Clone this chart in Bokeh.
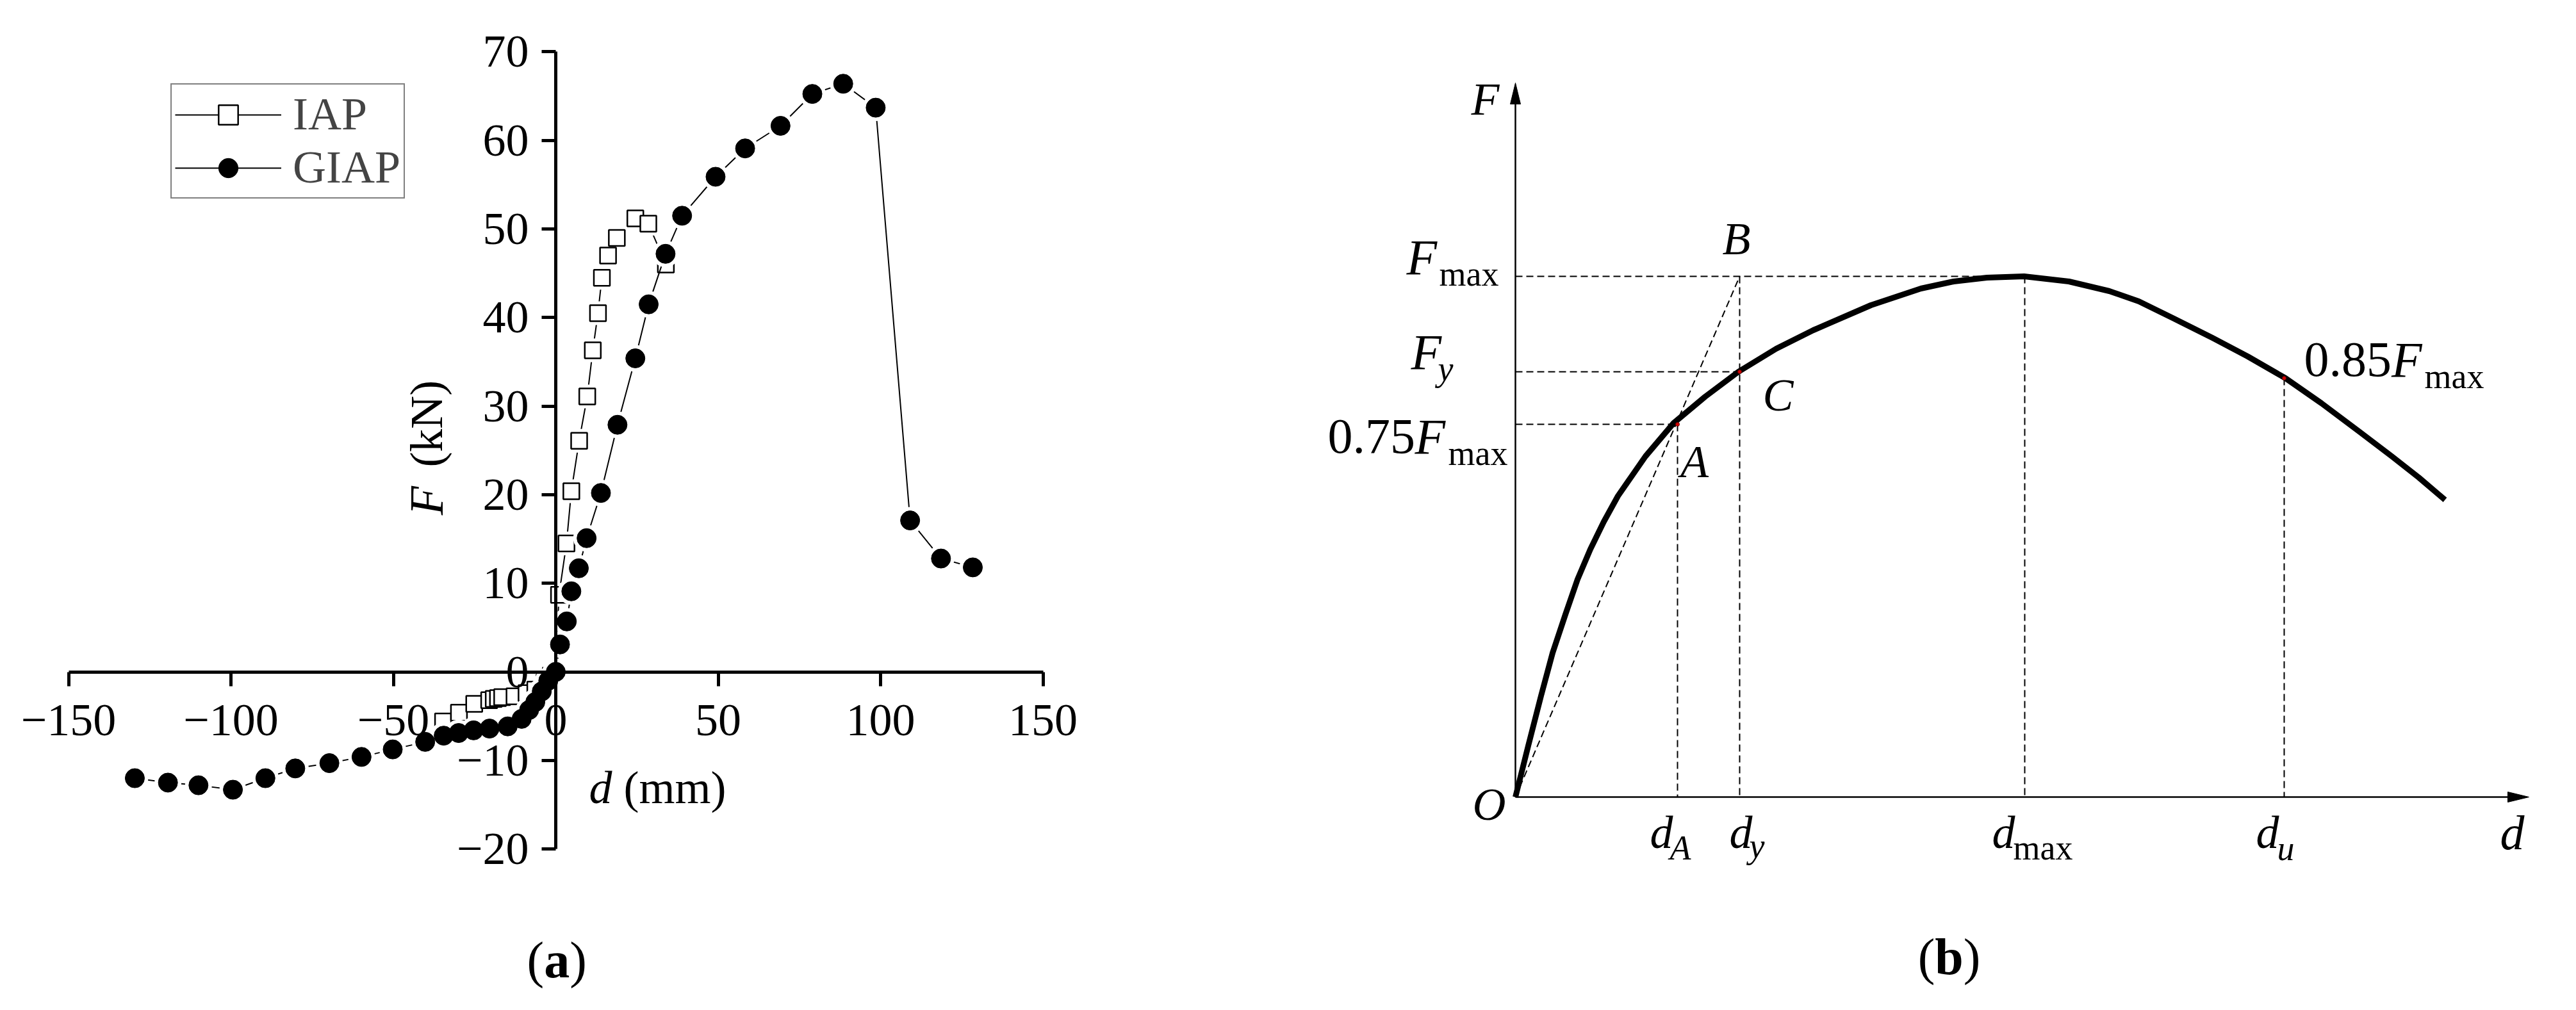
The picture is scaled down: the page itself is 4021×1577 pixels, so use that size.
import math
from bokeh.plotting import figure
from bokeh.layouts import row
from bokeh.models import Range1d, LinearAxis, FixedTicker, Legend, LegendItem, Label
from bokeh.embed import file_html
from bokeh.resources import INLINE

SERIF = "Liberation Serif"

# ---------------- panel (a) data ----------------
series_names = ["IAP", "GIAP"]
iap_d = [-34.7, -29.8, -25.1, -20.5, -19.1, -17.8, -16.5, -12.7, -9.0, -6.3, -3.5, -1.5, 0.0,
         1.0, 3.3, 4.8, 7.2, 9.7, 11.4, 13.0, 14.2, 16.1, 18.8, 24.5, 28.5, 33.9]
iap_f = [-5.6, -4.6, -3.6, -3.2, -3.05, -2.95, -2.85, -2.75, -2.4, -2.0, -1.2, -0.4, 0.0,
         8.7, 14.5, 20.4, 26.1, 31.1, 36.3, 40.5, 44.5, 47.0, 49.0, 51.2, 50.6, 46.0]
giap_d = [-129.6, -119.4, -110.0, -99.4, -89.4, -80.2, -69.7, -59.8, -50.2, -40.2, -34.5, -29.9,
          -25.3, -20.4, -14.8, -10.5, -8.2, -6.3, -4.3, -2.3, 0.0, 1.3, 3.4, 4.8, 7.1, 9.5, 13.9,
          19.0, 24.5, 28.6, 33.8, 38.9, 49.2, 58.3, 69.2, 79.0, 88.5, 98.5, 109.1, 118.6, 128.4]
giap_f = [-12.0, -12.5, -12.8, -13.3, -12.0, -10.9, -10.3, -9.6, -8.75, -7.9, -7.2, -6.9,
          -6.6, -6.4, -6.15, -5.3, -4.3, -3.4, -2.2, -1.0, 0.0, 3.1, 5.7, 9.1, 11.7, 15.1, 20.2,
          27.9, 35.4, 41.5, 47.2, 51.5, 55.9, 59.1, 61.65, 65.25, 66.4, 63.7, 17.1, 12.8, 11.8]
x_ticks_a = [-150, -100, -50, 0, 50, 100, 150]
x_tick_labels_a = ["\u2212150", "\u2212100", "\u221250", "0", "50", "100", "150"]
y_ticks_a = [-20, -10, 0, 10, 20, 30, 40, 50, 60, 70]
y_tick_labels_a = ["\u221220", "\u221210", "0", "10", "20", "30", "40", "50", "60", "70"]

# ---------------- panel (b) data (schematic) ----------------
curve_d = [0.0, 0.2, 0.4, 0.58, 0.78, 0.97, 1.17, 1.38, 1.60, 2.03, 2.47, 2.96, 3.48, 4.07, 4.65,
           5.55, 6.33, 6.84, 7.36, 7.94, 8.64, 9.27, 9.73, 10.28, 10.88, 11.43, 12.02, 12.58, 13.18,
           13.68, 14.10, 14.51]
curve_f = [0.0, 0.8, 1.58, 2.25, 2.85, 3.40, 3.87, 4.30, 4.70, 5.32, 5.84, 6.25, 6.64, 7.00, 7.29,
           7.68, 7.94, 8.05, 8.11, 8.13, 8.05, 7.90, 7.74, 7.47, 7.17, 6.88, 6.54, 6.15, 5.70,
           5.32, 4.99, 4.64]
F_MAX, F_Y, F_A, F_U = 8.13, 6.64, 5.82, 6.54
D_A, D_Y, D_MAX, D_U = 2.53, 3.50, 7.95, 12.0
X_AXIS_END, Y_AXIS_END = 15.82, 11.15
ARROW_LEN, ARROW_HALF = 0.33, 0.08

BASE_SHIFT = 0.27  # em; compensates the renderer's alphabetic-baseline placement


def label(p, x, y, text, size, style="normal", align="left", angle=0.0):
    shift = BASE_SHIFT * size
    if angle:
        xo, yo = -shift, 0.0
    else:
        xo, yo = 0.0, shift
    p.add_layout(Label(x=x, y=y, text=text, text_font=SERIF, text_font_size=f"{size}px",
                       text_font_style=style, text_align=align, text_baseline="alphabetic",
                       angle=angle, x_offset=xo, y_offset=yo, text_color="black"))


# ================= panel (a) =================
pa = figure(width=2000, height=1561, x_range=Range1d(-171.01, 223.47), y_range=Range1d(-37.05, 75.82),
            x_axis_type=None, y_axis_type=None, toolbar_location=None, output_backend="svg",
            min_border=0, min_border_left=0, min_border_right=0, min_border_top=0, min_border_bottom=0)
pa.outline_line_color = None
pa.background_fill_color = "white"
pa.border_fill_color = "white"

common_axis = dict(axis_line_width=5, axis_line_color="black", major_tick_line_width=5,
                   major_tick_line_color="black", major_tick_out=22, major_tick_in=0,
                   minor_tick_line_color=None, major_label_text_font=SERIF,
                   major_label_text_font_size="72px", major_label_text_color="black")
xa = LinearAxis(fixed_location=0, ticker=FixedTicker(ticks=x_ticks_a),
                major_label_overrides=dict(zip(x_ticks_a, x_tick_labels_a)),
                bounds=(x_ticks_a[0], x_ticks_a[-1]), major_label_standoff=30, **common_axis)
ya = LinearAxis(fixed_location=0, ticker=FixedTicker(ticks=y_ticks_a),
                major_label_overrides=dict(zip(y_ticks_a, y_tick_labels_a)),
                bounds=(y_ticks_a[0], y_ticks_a[-1]), major_label_standoff=20, **common_axis)
pa.add_layout(xa, "below")
pa.add_layout(ya, "left")

GAP = 12
iap_line = pa.line(iap_d, iap_f, line_color="black", line_width=2)
pa.scatter(iap_d, iap_f, marker="square", size=25 + GAP, fill_color="white", line_color=None)
iap_pts = pa.scatter(iap_d, iap_f, marker="square", size=25, fill_color="white",
                     line_color="black", line_width=2.5)
giap_line = pa.line(giap_d, giap_f, line_color="black", line_width=2)
pa.scatter(giap_d, giap_f, marker="circle", size=30 + GAP, fill_color="white", line_color=None)
giap_pts = pa.scatter(giap_d, giap_f, marker="circle", size=30, fill_color="black", line_color="black")

legend = Legend(items=[LegendItem(label=series_names[0], renderers=[iap_line, iap_pts]),
                       LegendItem(label=series_names[1], renderers=[giap_line, giap_pts])],
                location=(266, 1251), orientation="vertical",
                border_line_color="black", border_line_width=2, background_fill_color="white",
                background_fill_alpha=1.0, padding=5, spacing=0, margin=0,
                glyph_width=166, glyph_height=76, label_height=80, label_standoff=18,
                label_text_font=SERIF, label_text_font_size="72px", label_text_baseline="middle",
                label_text_line_height=1.0)
pa.add_layout(legend)

# axis titles of (a)
label(pa, 10.26, -14.49, "d", 72, style="italic")
label(pa, 20.9, -14.49, "(mm)", 72)
label(pa, -35.9, 17.7, "F", 74, style="italic", angle=math.pi / 2)
label(pa, -35.9, 23.1, "(kN)", 72, angle=math.pi / 2)

# caption (a)
label(pa, -3.6, -34.09, "(", 80, align="right")
label(pa, 0.35, -34.09, "a", 80, style="bold", align="center")
label(pa, 4.3, -34.09, ")", 80, align="left")

# ================= panel (b) =================
pb = figure(width=2005, height=1561, x_range=Range1d(-3.65, 16.40), y_range=Range1d(-3.17, 12.44),
            x_axis_type=None, y_axis_type=None, toolbar_location=None, output_backend="svg",
            min_border=0, min_border_left=0, min_border_right=0, min_border_top=0, min_border_bottom=0)
pb.outline_line_color = None
pb.background_fill_color = "white"
pb.border_fill_color = "white"

b_axis = dict(fixed_location=0, ticker=FixedTicker(ticks=[]), axis_line_width=2.5,
              axis_line_color="black", major_tick_line_color=None, minor_tick_line_color=None,
              major_label_text_font_size="0px")
pb.add_layout(LinearAxis(bounds=(0, X_AXIS_END - ARROW_LEN + 0.02), **b_axis), "below")
pb.add_layout(LinearAxis(bounds=(0, Y_AXIS_END - ARROW_LEN + 0.02), **b_axis), "left")
# arrow heads
pb.patches(xs=[[X_AXIS_END, X_AXIS_END - ARROW_LEN, X_AXIS_END - ARROW_LEN], [0, ARROW_HALF, -ARROW_HALF]],
           ys=[[0, ARROW_HALF, -ARROW_HALF], [Y_AXIS_END, Y_AXIS_END - ARROW_LEN, Y_AXIS_END - ARROW_LEN]],
           fill_color="black", line_color="black", line_width=1)

DASH = "11 6"
# horizontal guide lines
pb.segment(x0=[0, 0, 0], y0=[F_MAX, F_Y, F_A], x1=[D_MAX, D_Y, D_A], y1=[F_MAX, F_Y, F_A],
           line_color="black", line_width=2, line_dash=DASH)
# vertical guide lines
pb.segment(x0=[D_A, D_Y, D_MAX, D_U], y0=[F_A, F_MAX, F_MAX, F_U], x1=[D_A, D_Y, D_MAX, D_U],
           y1=[0, 0, 0, 0], line_color="black", line_width=2, line_dash=DASH)
# secant O-B
pb.segment(x0=[0], y0=[0], x1=[D_Y], y1=[F_MAX], line_color="black", line_width=2, line_dash=DASH)

pb.line(curve_d, curve_f, line_color="black", line_width=9, line_join="round")
pb.scatter([D_A, D_Y, D_U], [F_A, F_Y, F_U], marker="circle", size=6, fill_color="#d40000",
           line_color="#600000", line_width=1)

# labels of (b)
label(pb, -0.47, 10.70, "F", 72, style="italic", align="center")
label(pb, -0.41, -0.31, "O", 72, style="italic", align="center")
label(pb, 15.56, -0.76, "d", 76, style="italic", align="center")

label(pb, -1.70, 8.22, "F", 78, style="italic")
label(pb, -1.19, 8.02, "max", 54)
label(pb, -1.63, 6.74, "F", 78, style="italic")
label(pb, -1.21, 6.54, "y", 54, style="italic")
label(pb, -2.93, 5.42, "0.75", 78)
label(pb, -1.57, 5.42, "F", 78, style="italic")
label(pb, -1.05, 5.22, "max", 54)

label(pb, 3.45, 8.52, "B", 72, style="italic", align="center")
label(pb, 2.795, 5.04, "A", 72, style="italic", align="center")
label(pb, 4.10, 6.08, "C", 72, style="italic", align="center")

label(pb, 12.31, 6.62, "0.85", 78)
label(pb, 13.675, 6.62, "F", 78, style="italic")
label(pb, 14.19, 6.42, "max", 54)

label(pb, 2.10, -0.75, "d", 72, style="italic")
label(pb, 2.41, -0.94, "A", 54, style="italic")
label(pb, 3.34, -0.75, "d", 72, style="italic")
label(pb, 3.65, -0.91, "y", 54, style="italic")
label(pb, 7.44, -0.75, "d", 72, style="italic")
label(pb, 7.77, -0.94, "max", 54)
label(pb, 11.56, -0.75, "d", 72, style="italic")
label(pb, 11.89, -0.95, "u", 54, style="italic")

# caption (b)
label(pb, 6.548, -2.71, "(", 80, align="right")
label(pb, 6.77, -2.71, "b", 80, style="bold", align="center")
label(pb, 6.992, -2.71, ")", 80, align="left")

layout = row(pa, pb)
open("out.html", "w").write(file_html(layout, INLINE))
